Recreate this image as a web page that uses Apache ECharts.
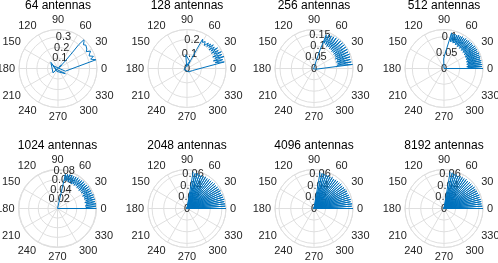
<!DOCTYPE html>
<html><head><meta charset="utf-8">
<script src="https://cdn.jsdelivr.net/npm/echarts@6/dist/echarts.min.js"></script>
<style>html,body{margin:0;padding:0;background:#fff}#c{width:498px;height:263px}</style>
</head><body><div id="c"></div>
<script>
const titles = ['64 antennas','128 antennas','256 antennas','512 antennas','1024 antennas','2048 antennas','4096 antennas','8192 antennas'];
const rMax = [0.37, 0.27, 0.172, 0.123, 0.081, 0.067, 0.067, 0.067];
const rStep = [0.1, 0.1, 0.05, 0.05, 0.02, 0.02, 0.02, 0.02];
const angleStep = 30;

// [angle in degrees, radius]
const pts64 = [[60,0.019],[42,0.044],[221,0.063],[139,0.089],[200,0.019],[325,0.085],[250,0.03],[150,0.056],[340,0.074],[335,0.06],[13,0.37],[16,0.322],[19,0.355],[22,0.318],[25,0.33],[28,0.35],[31,0.312],[34,0.33],[37,0.32],[40,0.345],[43,0.33],[46,0.355],[48,0.37],[49,0.3],[48,0.2],[46,0.1],[40,0.019]];
const pts128 = [[100,0.014],[95,0.095],[70,0.054],[200,0.022],[300,0.027],[340,0.041],[10,0.262],[12,0.2],[14,0.255],[16,0.19],[18,0.27],[20,0.205],[22,0.26],[24,0.195],[26,0.265],[28,0.21],[30,0.25],[32,0.2],[34,0.255],[36,0.205],[38,0.24],[40,0.2],[42,0.245],[44,0.21],[46,0.235],[48,0.205],[50,0.23],[53,0.2],[56,0.225],[59,0.21],[62,0.23],[63,0.15],[66,0.06],[80,0.014]];
const pts256 = [[180,0.005],[340,0.009],[6,0.172],[8,0.103],[10,0.167],[12,0.107],[14,0.165],[16,0.103],[18,0.167],[20,0.108],[22,0.169],[24,0.103],[26,0.167],[28,0.107],[30,0.17],[32,0.108],[34,0.169],[36,0.107],[38,0.172],[40,0.11],[42,0.17],[44,0.108],[46,0.169],[48,0.112],[50,0.167],[52,0.11],[54,0.167],[56,0.114],[58,0.165],[60,0.112],[62,0.163],[64,0.117],[66,0.162],[68,0.12],[70,0.158],[72,0.086],[74,0.034],[90,0.003]];
const pts512 = [[90,0],[0,0.123],[1.5,0.075],[3,0.12],[4.5,0.072],[6,0.121],[7.5,0.076],[9,0.119],[10.5,0.073],[12,0.12],[13.5,0.077],[15,0.118],[16.5,0.074],[18,0.12],[19.5,0.078],[21,0.119],[22.5,0.075],[24,0.121],[25.5,0.079],[27,0.118],[28.5,0.076],[30,0.12],[31.5,0.08],[33,0.119],[34.5,0.077],[36,0.12],[37.5,0.081],[39,0.118],[40.5,0.078],[42,0.119],[43.5,0.082],[45,0.117],[46.5,0.079],[48,0.118],[49.5,0.083],[51,0.116],[52.5,0.08],[54,0.117],[55.5,0.084],[57,0.115],[58.5,0.081],[60,0.116],[61.5,0.085],[63,0.114],[64.5,0.083],[66,0.115],[67.5,0.087],[69,0.113],[70.5,0.085],[72,0.114],[73.5,0.088],[75,0.113],[76.5,0.087],[78,0.115],[80,0.11],[88,0.04],[92,0.03],[90,0]];
const pts1024 = [[0,0],[0,0.081],[1.75,0.059],[3.5,0.08],[5.25,0.058],[7,0.081],[8.75,0.06],[10.5,0.079],[12.25,0.058],[14,0.08],[15.75,0.061],[17.5,0.079],[19.25,0.059],[21,0.08],[22.75,0.06],[24.5,0.078],[26.25,0.058],[28,0.079],[29.75,0.061],[31.5,0.078],[33.25,0.059],[35,0.079],[36.75,0.06],[38.5,0.078],[40.25,0.058],[42,0.077],[43.75,0.06],[45.5,0.078],[47.25,0.059],[49,0.077],[50.75,0.061],[52.5,0.076],[54.25,0.059],[56,0.077],[57.75,0.06],[59.5,0.076],[61.25,0.058],[63,0.075],[64.75,0.06],[66.5,0.076],[68.25,0.059],[70,0.075],[71.75,0.061],[73.5,0.074],[75.25,0.06],[77,0.073],[79,0]];
const pts2048 = [[0,0],[0,0.067],[3.5,0],[3.5,0.066],[7,0],[7,0.066],[10.5,0],[10.5,0.065],[14,0],[14,0.066],[17.5,0],[17.5,0.065],[21,0],[21,0.065],[24.5,0],[24.5,0.064],[28,0],[28,0.065],[31.5,0],[31.5,0.064],[35,0],[35,0.064],[38.5,0],[38.5,0.063],[42,0],[42,0.064],[45.5,0],[45.5,0.063],[49,0],[49,0.063],[52.5,0],[52.5,0.063],[56,0],[56,0.062],[59.5,0],[59.5,0.063],[63,0],[63,0.062],[66.5,0],[66.5,0.062],[70,0],[70,0.062],[73.5,0],[73.5,0.063],[77,0],[77,0.062],[80.5,0],[80.5,0.064]];
const pts4096 = [[0,0],[0,0.067],[3.5,0],[3.5,0.065],[7,0],[7,0.066],[10.5,0],[10.5,0.064],[14,0],[14,0.065],[17.5,0],[17.5,0.064],[21,0],[21,0.064],[24.5,0],[24.5,0.063],[28,0],[28,0.064],[31.5,0],[31.5,0.063],[35,0],[35,0.063],[38.5,0],[38.5,0.062],[42,0],[42,0.063],[45.5,0],[45.5,0.062],[49,0],[49,0.062],[52.5,0],[52.5,0.062],[56,0],[56,0.061],[59.5,0],[59.5,0.062],[63,0],[63,0.061],[66.5,0],[66.5,0.062],[70,0],[70,0.061],[73.5,0],[73.5,0.062],[77,0],[77,0.062],[80.5,0],[80.5,0.063]];
const pts8192 = [[0,0],[0,0.067],[3.5,0],[3.5,0.066],[7,0],[7,0.065],[10.5,0],[10.5,0.065],[14,0],[14,0.065],[17.5,0],[17.5,0.064],[21,0],[21,0.065],[24.5,0],[24.5,0.064],[28,0],[28,0.064],[31.5,0],[31.5,0.063],[35,0],[35,0.064],[38.5,0],[38.5,0.063],[42,0],[42,0.063],[45.5,0],[45.5,0.063],[49,0],[49,0.062],[52.5,0],[52.5,0.063],[56,0],[56,0.062],[59.5,0],[59.5,0.062],[63,0],[63,0.062],[66.5,0],[66.5,0.061],[70,0],[70,0.062],[73.5,0],[73.5,0.062],[77,0],[77,0.063],[80.5,0],[80.5,0.064]];
const allPts = [pts64, pts128, pts256, pts512, pts1024, pts2048, pts4096, pts8192];

const cx = [58, 187, 314, 444, 57.5, 187, 314, 444];
const cy = [68.5, 68.5, 68.5, 68.5, 208.5, 208.5, 208.5, 208.5];
const R = 39;
const GRID = '#dfdfdf';
const TXT = '#262626';
const FONT = 'Liberation Sans, Arial, Helvetica, sans-serif';

const polar = [], angleAxis = [], radiusAxis = [], series = [], title = [];
const n = titles.length;
for (let i = 0; i < n; i++) {
  polar.push({center: [cx[i], cy[i]], radius: R});
  angleAxis.push({
    polarIndex: i, type: 'value', min: 0, max: 360, interval: angleStep,
    startAngle: 0, clockwise: false,
    axisLine: {show: true, lineStyle: {color: GRID, width: 1}},
    axisTick: {show: false},
    axisLabel: {show: true, margin: 4, fontSize: 11, color: TXT, fontFamily: FONT},
    splitLine: {show: true, lineStyle: {color: GRID, width: 1}}
  });
  radiusAxis.push({
    polarIndex: i, type: 'value', min: 0, max: rMax[i], interval: rStep[i],
    axisLine: {show: false}, axisTick: {show: false}, axisLabel: {show: false},
    splitLine: {show: true, lineStyle: {color: GRID, width: 1}}
  });
  title.push({
    text: titles[i], left: cx[i], top: cy[i] - 68.5, textAlign: 'center', padding: 0,
    textStyle: {fontSize: 12, fontWeight: 'normal', color: '#000', fontFamily: FONT}
  });
  series.push({
    type: 'line', coordinateSystem: 'polar', polarIndex: i,
    data: allPts[i].map(p => [p[1], p[0]]),
    showSymbol: false, symbol: 'none', silent: true, animation: false, clip: false,
    lineStyle: {width: 1, color: '#0072BD'}
  });
}
// overlay polars: radius tick labels along 80 degrees
for (let i = 0; i < n; i++) {
  const step = rStep[i];
  polar.push({center: [cx[i], cy[i]], radius: R});
  angleAxis.push({polarIndex: n + i, type: 'value', min: 0, max: 360, startAngle: 80, show: false});
  radiusAxis.push({
    polarIndex: n + i, type: 'value', min: 0, max: rMax[i], interval: step,
    axisLine: {show: false}, axisTick: {show: false}, splitLine: {show: false},
    axisLabel: {
      show: true, margin: 0, align: 'center', verticalAlign: 'middle',
      fontSize: 11, color: TXT, fontFamily: FONT, hideOverlap: false,
      formatter: v => {
        const k = v / step;
        return Math.abs(k - Math.round(k)) < 1e-6 ? String(parseFloat(v.toFixed(4))) : '';
      }
    }
  });
}

const chart = echarts.init(document.getElementById('c'), null, {renderer: 'canvas'});
chart.setOption({animation: false, title, polar, angleAxis, radiusAxis, series});
</script>
</body></html>
